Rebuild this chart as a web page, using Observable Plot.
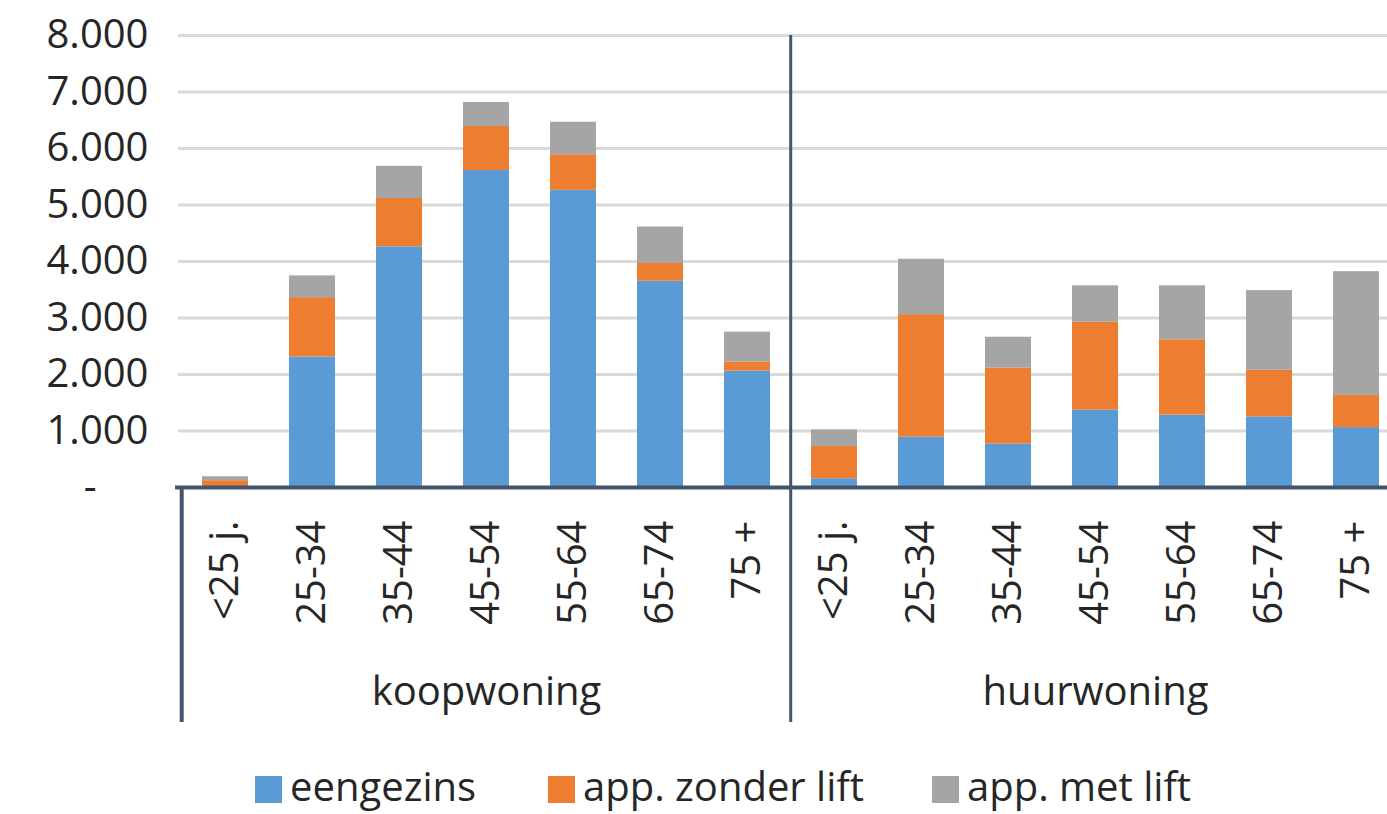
<!DOCTYPE html>
<html>
<head>
<meta charset="utf-8">
<script src="https://cdn.jsdelivr.net/npm/d3@7"></script>
<script src="https://cdn.jsdelivr.net/npm/@observablehq/plot@0.6"></script>
<style>
  html, body { margin: 0; padding: 0; background: #fff; overflow: hidden; }
  #wrap { position: relative; width: 1387px; height: 814px; }
  .legend { position: absolute; top: 766px; left: 0; width: 1387px; height: 44px;
            font-family: 'Open Sans', sans-serif; font-size: 40px; line-height: 40px; color: #262626; }
  .legend .item { position: absolute; top: 0; display: flex; align-items: center; height: 40px; white-space: nowrap; }
  .legend .sw { width: 27px; height: 27px; margin-right: 8px; margin-top: 6px; }
</style>
</head>
<body>
<div id="wrap"></div>
<script>
// ---- data ----
const ages = ["<25 j.", "25-34", "35-44", "45-54", "55-64", "65-74", "75 +"];
const tenures = ["koopwoning", "huurwoning"];
const types = ["eengezins", "app. zonder lift", "app. met lift"];
const colors = ["#5B9BD5", "#ED7D31", "#A5A5A5"];

const koopEengezins  = [10, 2310, 4260, 5610, 5260, 3650, 2060];
const koopZonderLift = [110, 1050, 855, 780, 630, 315, 160];
const koopMetLift    = [70, 385, 570, 425, 575, 645, 530];

const huurEengezins  = [155, 890, 770, 1370, 1280, 1250, 1060];
const huurZonderLift = [570, 2170, 1345, 1555, 1335, 825, 570];
const huurMetLift    = [295, 980, 545, 645, 955, 1410, 2190];

const yTicks = [0, 1000, 2000, 3000, 4000, 5000, 6000, 7000, 8000];

// ---- build table ----
const series = {
  koopwoning: [koopEengezins, koopZonderLift, koopMetLift],
  huurwoning: [huurEengezins, huurZonderLift, huurMetLift]
};
const keys = tenures.flatMap(t => ages.map(a => t + "|" + a));
const data = [];
for (const t of tenures) {
  ages.forEach((a, i) => {
    types.forEach((ty, j) => {
      data.push({key: t + "|" + a, tenure: t, age: a, type: ty, value: series[t][j][i]});
    });
  });
}

// ---- layout ----
const W = 1387, H = 766, mTop = 35, mBottom = 279, mLeft = 178;
const xRange = [177, 1403];
const step = (xRange[1] - xRange[0]) / keys.length;
const frameH = H - mBottom - mTop;
const below = 235;
const font = "'Open Sans', sans-serif";
const fmt = d => d === 0 ? "-\u00a0\u00a0\u00a0\u00a0\u00a0" : d3.format(",")(d).replace(/,/g, ".");

const chart = Plot.plot({
  width: W, height: H,
  marginTop: mTop, marginBottom: mBottom, marginLeft: mLeft, marginRight: 0,
  style: {fontFamily: font, color: "#262626", background: "white", overflow: "visible"},
  x: {domain: keys, range: xRange, paddingInner: 0.475, paddingOuter: 0.2375, axis: null},
  y: {domain: [0, 8000], axis: null},
  color: {domain: types, range: colors},
  marks: [
    Plot.ruleY(yTicks.filter(d => d > 0), {stroke: "#D9D9D9", strokeWidth: 3}),
    Plot.barY(data, {x: "key", y: "value", fill: "type", order: types}),
    Plot.ruleY([0], {stroke: "#44546A", strokeWidth: 4, insetLeft: -3}),
    Plot.ruleX([keys[0]], {dx: -step / 2, stroke: "#44546A", strokeWidth: 4, insetTop: frameH, insetBottom: -below}),
    Plot.ruleX([keys[ages.length]], {dx: -step / 2, stroke: "#44546A", strokeWidth: 3, insetTop: 0, insetBottom: -below}),
    Plot.axisY({ticks: yTicks, tickFormat: fmt, tickSize: 0, tickPadding: 30, fontSize: 40, label: null, fill: "#262626"}),
    Plot.text(keys, {x: d => d, y: () => 0, text: d => d.split("|")[1], rotate: -90, textAnchor: "end",
                     lineAnchor: "middle", dy: 33, fontSize: 40, fill: "#262626"}),
    Plot.text(tenures, {x: t => t + "|45-54", y: () => 0, text: d => d, dy: 205, fontSize: 40, fill: "#262626"})
  ]
});
document.getElementById("wrap").appendChild(chart);

// ---- legend ----
const legend = document.createElement("div");
legend.className = "legend";
const lefts = [255, 548, 932];
types.forEach((t, i) => {
  const it = document.createElement("div");
  it.className = "item";
  it.style.left = lefts[i] + "px";
  const sw = document.createElement("div");
  sw.className = "sw";
  sw.style.background = colors[i];
  const tx = document.createElement("span");
  tx.textContent = t;
  it.appendChild(sw); it.appendChild(tx);
  legend.appendChild(it);
});
document.getElementById("wrap").appendChild(legend);
</script>
</body>
</html>
